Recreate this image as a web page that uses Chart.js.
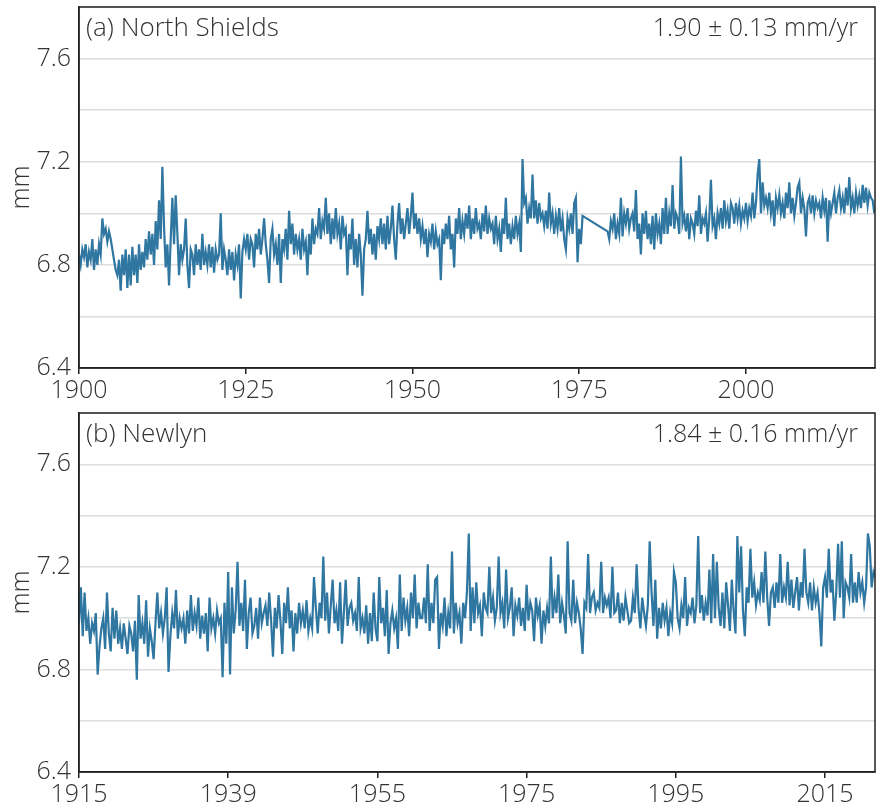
<!DOCTYPE html>
<html>
<head>
<meta charset="utf-8">
<script src="https://cdn.jsdelivr.net/npm/chart.js@4.4.1/dist/chart.umd.min.js"></script>
<style>
  body { margin: 0; background: #fff; }
  #wrap { position: relative; width: 882px; height: 805px; }
  .panel { position: absolute; left: 0; width: 882px; }
</style>
</head>
<body>
<div id="wrap">
  <div class="panel" style="top:0;height:405px"><canvas id="chartNS" width="882" height="405"></canvas></div>
  <div class="panel" style="top:405px;height:400px"><canvas id="chartNL" width="882" height="400"></canvas></div>
</div>

<script type="text/javascript">

// ---- data (quarterly readings, mm) ----
const quarter = 0.25;

// North Shields, before the gap (starts 1900.0)
const nsStartA = 1900;
const nsValuesA = [
  6.84, 6.80, 6.86, 6.83,  6.88, 6.79, 6.85, 6.82,  6.90, 6.78, 6.86, 6.80,  6.88, 6.84, 6.98, 6.92,
  6.94, 6.89, 6.93, 6.90,  6.86, 6.82, 6.78, 6.76,  6.82, 6.70, 6.84, 6.76,  6.86, 6.71, 6.84, 6.72,
  6.87, 6.76, 6.84, 6.73,  6.88, 6.78, 6.85, 6.79,  6.90, 6.82, 6.93, 6.84,  6.92, 6.80, 6.97, 6.86,
  7.05, 6.90, 7.18, 6.95,  6.79, 6.88, 6.72, 6.90,  7.06, 6.88, 7.07, 6.92,  6.76, 6.88, 6.82, 6.86,
  6.98, 6.80, 6.71, 6.86,  6.84, 6.76, 6.88, 6.80,  6.86, 6.78, 6.92, 6.80,  6.85, 6.80, 6.88, 6.79,
  6.87, 6.77, 6.86, 6.82,  6.84, 7.00, 6.78, 6.86,  6.82, 6.76, 6.86, 6.78,  6.85, 6.74, 6.84, 6.80,
  6.88, 6.67, 6.85, 6.90,  6.86, 6.92, 6.82, 6.90,  6.88, 6.79, 6.92, 6.86,  6.94, 6.84, 6.90, 6.98,
  6.88, 6.82, 6.73, 6.90,  6.94, 6.84, 6.88, 6.80,  6.92, 6.73, 6.90, 6.86,  6.94, 6.82, 7.01, 6.88,
  6.96, 6.84, 6.92, 6.86,  6.90, 6.82, 6.94, 6.86,  6.89, 6.76, 6.92, 6.84,  6.98, 6.88, 6.94, 6.92,
  7.02, 6.90, 6.97, 6.94,  7.06, 6.92, 7.00, 6.88,  6.98, 6.90, 7.02, 6.92,  6.96, 6.86, 6.99, 6.92,
  6.94, 6.76, 6.92, 6.86,  6.98, 6.80, 6.90, 6.79,  6.92, 6.84, 6.68, 6.86,  6.90, 7.01, 6.88, 6.94,
  6.84, 6.92, 6.82, 6.95,  6.90, 6.98, 6.88, 6.96,  6.86, 6.99, 6.88, 6.94,  7.03, 6.90, 6.82, 6.96,
  7.04, 6.92, 6.98, 6.90,  6.96, 7.02, 6.92, 6.99,  7.08, 6.94, 7.00, 6.92,  6.98, 6.90, 6.95, 6.88,
  6.94, 6.83, 6.92, 6.89,  6.96, 6.86, 6.93, 6.88,  6.90, 6.74, 6.94, 6.88,  6.96, 6.90, 6.99, 6.86,
  6.92, 6.79, 6.98, 6.92,  7.02, 6.90, 6.97, 6.92,  7.00, 6.94, 7.03, 6.90,  6.98, 6.92, 7.02, 6.94,
  6.96, 6.90, 7.00, 6.93,  7.03, 6.92, 6.98, 6.94,  6.96, 6.88, 6.99, 6.90,  6.94, 6.85, 6.98, 6.92,
  7.06, 6.90, 6.96, 6.88,  6.95, 6.90, 6.99, 6.92,  6.96, 6.85, 7.21, 7.04,  7.06, 6.96, 7.02, 6.98,
  7.15, 6.98, 7.05, 6.96,  7.04, 6.98, 7.00, 6.95,  7.01, 6.94, 7.08, 6.96,  7.00, 6.92, 6.99, 6.94,
  7.02, 6.93, 6.98, 6.90,  6.86, 6.98, 6.94, 7.00,  6.92, 7.04, 7.06, 6.81,  6.94, 6.88, 6.99
];

// North Shields, after the gap (starts 1979.25)
const nsStartB = 1979.25;
const nsValuesB = [
  6.93, 6.90, 6.97,
  6.94, 7.00, 6.90, 6.96,  6.92, 7.06, 6.91, 7.00,  6.96, 7.02, 6.94, 6.98,  7.00, 6.93, 7.09, 6.90,
  6.96, 6.84, 7.00, 6.92,  7.01, 6.90, 6.96, 6.88,  6.99, 6.86, 7.00, 6.92,  6.96, 6.88, 7.02, 6.92,
  7.06, 6.92, 7.00, 6.95,  7.11, 6.94, 7.00, 6.98,  6.92, 7.22, 6.96, 6.99,  6.93, 7.00, 6.90, 6.98,
  6.96, 6.92, 7.01, 6.95,  7.07, 6.92, 6.98, 6.96,  7.00, 6.89, 6.98, 7.13,  6.95, 6.98, 6.90, 7.00,
  6.96, 7.02, 6.94, 7.05,  6.97, 7.01, 6.94, 7.04,  7.02, 6.96, 7.04, 6.98,  7.03, 6.96, 7.01, 6.98,
  7.04, 6.97, 7.02, 6.99,  7.08, 6.98, 7.04, 7.15,  7.21, 7.00, 7.12, 7.03,  7.06, 7.02, 7.08, 7.00,
  7.05, 6.95, 7.06, 7.02,  7.07, 7.00, 7.04, 6.98,  7.08, 7.02, 7.12, 7.00,  7.06, 6.99, 7.04, 7.10,
  7.12, 7.00, 7.06, 7.02,  6.91, 7.04, 7.06, 7.00,  7.07, 7.00, 7.05, 7.02,  7.04, 6.98, 7.06, 7.01,
  7.06, 6.89, 7.05, 7.00,  7.04, 7.08, 7.00, 7.06,  7.09, 7.02, 7.06, 7.00,  7.10, 7.03, 7.14, 7.02,
  7.06, 7.00, 7.08, 7.03,  7.07, 7.02, 7.11, 7.04,  7.10, 7.03, 7.08, 7.06,  7.05, 7.00
];

// Newlyn (starts 1915.0)
const nlStart = 1915;
const nlValues = [
  6.98, 7.12, 6.93, 7.10,  6.95, 7.00, 6.90, 6.98,  6.95, 7.02, 6.78, 6.89,  6.96, 7.00, 6.88, 7.10,
  6.94, 6.87, 7.04, 6.92,  7.03, 6.90, 6.96, 6.88,  6.98, 6.92, 6.86, 6.97,  6.94, 6.87, 6.99, 6.76,
  7.09, 6.92, 6.98, 6.90,  7.07, 6.85, 6.96, 6.91,  6.84, 6.98, 7.10, 6.96,  7.02, 6.94, 7.00, 7.12,
  6.79, 6.93, 7.02, 6.96,  7.11, 6.92, 7.00, 6.96,  7.00, 6.90, 7.03, 6.94,  7.09, 6.95, 7.02, 6.97,
  7.08, 6.92, 7.01, 6.94,  7.02, 6.87, 7.08, 6.96,  7.00, 6.94, 7.03, 6.98,  7.00, 6.77, 7.06, 6.90,
  7.18, 6.78, 7.12, 6.94,  7.03, 7.22, 6.97, 7.06,  6.95, 7.15, 6.88, 7.02,  7.08, 6.94, 6.97, 7.04,
  6.92, 7.08, 6.98, 7.02,  7.05, 6.97, 7.10, 6.99,  6.85, 7.04, 6.96, 7.09,  6.99, 6.86, 7.06, 6.98,
  7.12, 6.96, 7.03, 6.87,  7.02, 6.94, 7.06, 6.98,  7.03, 6.96, 7.07, 6.95,  7.00, 6.96, 7.16, 7.04,
  6.94, 7.06, 7.00, 7.24,  6.99, 7.10, 6.94, 7.05,  7.15, 6.98, 7.03, 6.95,  7.14, 6.90, 7.02, 7.15,
  6.97, 7.04, 7.06, 6.99,  7.02, 6.95, 7.16, 6.96,  7.00, 6.94, 7.05, 6.90,  7.02, 6.91, 7.10, 6.96,
  6.91, 7.16, 6.98, 7.04,  6.93, 7.11, 6.86, 6.98,  7.03, 6.96, 7.00, 6.88,  7.17, 6.95, 7.08, 6.99,
  7.04, 6.93, 7.10, 7.00,  7.17, 6.96, 7.06, 7.00,  7.00, 7.08, 6.98, 7.21,  6.95, 7.06, 6.98, 7.15,
  7.16, 6.88, 7.02, 6.97,  7.08, 6.93, 7.02, 6.96,  7.26, 6.94, 7.06, 6.98,  7.02, 6.90, 7.06, 7.00,
  7.10, 7.33, 6.95, 7.12,  6.98, 7.14, 7.02, 7.05,  6.93, 7.10, 7.04, 7.02,  7.20, 7.02, 7.08, 6.99,
  7.04, 7.24, 7.02, 7.06,  6.96, 7.19, 7.00, 7.04,  7.12, 6.93, 7.05, 7.01,  7.08, 6.97, 7.04, 6.95,
  7.13, 6.99, 7.06, 7.03,  6.91, 7.08, 7.01, 7.05,  6.90, 7.03, 6.97, 7.04,  6.98, 7.24, 7.00, 7.08,
  7.02, 7.17, 6.98, 7.06,  7.01, 6.94, 7.30, 7.02,  6.99, 7.15, 6.98, 7.06,  7.02, 6.96, 6.86, 7.06,
  7.04, 7.25, 7.02, 7.08,  7.10, 7.03, 7.06, 7.04,  7.22, 7.02, 7.08, 7.05,  7.08, 7.00, 7.20, 7.02,
  7.03, 7.10, 6.98, 7.06,  6.99, 7.08, 7.03, 6.98,  6.99, 7.08, 7.02, 7.21,  7.04, 6.96, 7.08, 7.02,
  6.97, 7.05, 7.30, 7.10,  6.97, 7.15, 6.92, 7.04,  6.96, 7.06, 6.99, 7.04,  6.93, 7.02, 6.98, 7.18,
  7.14, 7.00, 6.96, 7.05,  7.00, 7.16, 6.97, 7.04,  7.02, 7.08, 6.98, 7.05,  7.32, 7.02, 7.09, 6.99,
  7.06, 7.01, 7.19, 6.98,  7.25, 7.00, 7.22, 7.04,  6.97, 7.10, 6.96, 7.14,  7.05, 6.95, 7.15, 7.03,
  6.94, 7.32, 7.10, 7.28,  7.03, 6.93, 7.12, 7.06,  7.27, 7.08, 7.14, 7.05,  7.10, 7.07, 7.18, 7.06,
  7.26, 7.08, 6.97, 7.10,  7.12, 7.04, 7.14, 7.06,  7.25, 7.06, 7.12, 7.08,  7.22, 7.05, 7.15, 7.04,
  7.10, 7.16, 7.03, 7.14,  7.08, 7.27, 7.10, 7.06,  7.14, 7.03, 7.12, 7.06,  7.10, 7.02, 6.89, 7.12,
  7.16, 7.08, 7.27, 7.10,  7.15, 6.99, 7.10, 7.29,  7.08, 7.30, 7.00, 7.14,  7.12, 7.08, 7.25, 7.06,
  7.14, 7.06, 7.18, 7.10,  7.14, 7.06, 7.12, 7.33,  7.28, 7.12, 7.18, 7.16
];

// axes
const nsRange = [1900, 2019.35];
const nlRange = [1915, 2021.7];
const yRange = [6.4, 7.8];
const yLabels = ['6.4', '6.8', '7.2', '7.6'];
const nsTickYears = [1900, 1925, 1950, 1975, 2000];
const nsTickLabels = ['1900', '1925', '1950', '1975', '2000'];
const nlTickYears = [1915, 1935, 1955, 1975, 1995, 2015];
const nlTickLabels = ['1915', '1939', '1955', '1975', '1995', '2015'];

const lineColor = '#2f76a0';
const textColor = '#333333';
const fontFamily = "'Open Sans', 'DejaVu Sans', sans-serif";
const fontSize = 25;

function toPoints(start, values) {
  return values.map((v, i) => ({ x: start + i * quarter, y: v }));
}

// frame + corner texts
const panelText = {
  id: 'panelText',
  afterDraw(chart, args, opts) {
    const ctx = chart.ctx, a = chart.chartArea;
    ctx.save();
    ctx.strokeStyle = '#222';
    ctx.lineWidth = 1.5;
    ctx.strokeRect(a.left, a.top, a.right - a.left, a.bottom - a.top);
    ctx.fillStyle = textColor;
    ctx.textBaseline = 'alphabetic';
    ctx.textAlign = 'left';
    ctx.font = '300 26px ' + fontFamily;
    ctx.fillText(opts.title, a.left + 7, a.top + 29);
    ctx.textAlign = 'right';
    ctx.font = '300 25px ' + fontFamily;
    ctx.fillText(opts.rate, a.right - 17, a.top + 29);
    ctx.restore();
  }
};

function makeChart(id, points, range, tickYears, tickLabels, title, rate, padTop, xHeight) {
  const ctx = document.getElementById(id).getContext('2d');
  return new Chart(ctx, {
    type: 'line',
    data: {
      datasets: [{
        data: points,
        borderColor: lineColor,
        borderWidth: 2.2,
        pointRadius: 0,
        tension: 0,
        fill: false
      }]
    },
    options: {
      responsive: false,
      animation: false,
      events: [],
      layout: { padding: { top: padTop, right: 7, left: 0, bottom: 0 } },
      plugins: {
        legend: { display: false },
        tooltip: { enabled: false },
        panelText: { title: title, rate: rate }
      },
      scales: {
        x: {
          type: 'linear',
          min: range[0],
          max: range[1],
          afterBuildTicks: s => { s.ticks = tickYears.map(v => ({ value: v })); },
          afterFit: s => { s.height = xHeight; s.paddingLeft = 0; s.paddingRight = 0; },
          ticks: {
            color: textColor,
            font: { family: fontFamily, size: fontSize, weight: '300' },
            padding: 2,
            maxRotation: 0,
            autoSkip: false,
            callback: v => tickLabels[tickYears.indexOf(v)]
          },
          grid: { drawOnChartArea: false, drawTicks: true, tickLength: 6, color: '#222', lineWidth: 1.5 },
          border: { display: true, color: '#222', width: 1.5 }
        },
        y: {
          min: yRange[0],
          max: yRange[1],
          afterFit: s => { s.width = 79; s.paddingTop = 0; s.paddingBottom = 0; },
          ticks: {
            stepSize: 0.2,
            color: textColor,
            font: { family: fontFamily, size: fontSize, weight: '300' },
            padding: 8,
            callback: v => yLabels.includes(v.toFixed(1)) ? v.toFixed(1) : ''
          },
          title: {
            display: true,
            text: 'mm',
            color: textColor,
            font: { family: fontFamily, size: fontSize, weight: '300' },
            padding: { top: 7, bottom: 0 }
          },
          grid: { color: '#dddddd', lineWidth: 1.5, drawTicks: false },
          border: { display: true, color: '#222', width: 1.5 }
        }
      }
    },
    plugins: [panelText]
  });
}

const nsPoints = toPoints(nsStartA, nsValuesA).concat(toPoints(nsStartB, nsValuesB));
const nlPoints = toPoints(nlStart, nlValues);

makeChart('chartNS', nsPoints, nsRange, nsTickYears, nsTickLabels,
  '(a) North Shields', '1.90 \u00b1 0.13 mm/yr', 7, 37);
makeChart('chartNL', nlPoints, nlRange, nlTickYears, nlTickLabels,
  '(b) Newlyn', '1.84 \u00b1 0.16 mm/yr', 8, 33);
</script>
</body>
</html>
